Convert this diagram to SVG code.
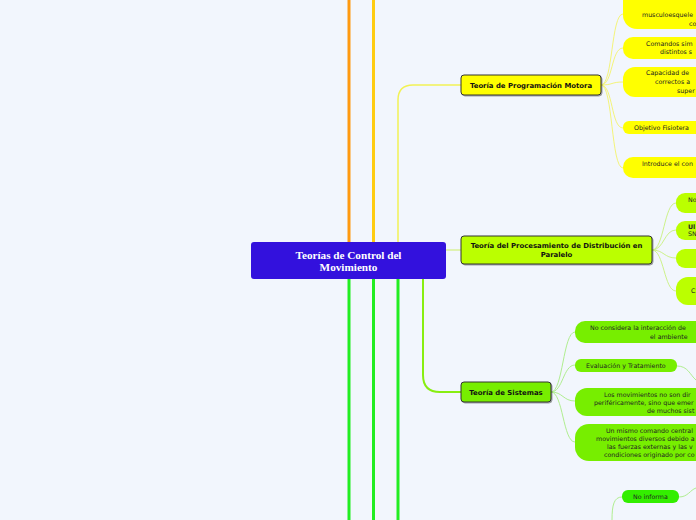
<svg xmlns="http://www.w3.org/2000/svg" width="696" height="520" viewBox="0 0 696 520">
<style>
.t{font-family:"DejaVu Sans","Liberation Sans",sans-serif;font-size:6.3px;fill:#222}
.h{font-family:"DejaVu Sans","Liberation Sans",sans-serif;font-size:6.9px;font-weight:bold;fill:#111;text-anchor:middle}
.c{font-family:"Liberation Serif",serif;font-weight:bold;font-size:11.2px;fill:#fff;text-anchor:middle}
.theme{stroke:#333;stroke-width:1}
.cy{fill:none;stroke:#f4f47a;stroke-width:1}
.cl{fill:none;stroke:#cdf28a;stroke-width:1}
.cg{fill:none;stroke:#b0ee90;stroke-width:1}
</style>
<defs>
<filter id="sh" x="-10%" y="-20%" width="120%" height="150%"><feDropShadow dx="1" dy="1" stdDeviation="0.6" flood-color="#000" flood-opacity="0.35"/></filter>
</defs>
<rect width="696" height="520" fill="#f2f6fd"/>
<g id="connectors">
<line x1="349" y1="0" x2="349" y2="242" stroke="#ff9a10" stroke-width="3"/>
<line x1="373.5" y1="0" x2="373.5" y2="242" stroke="#ffcc11" stroke-width="3"/>
<path d="M398,242 L398,100 Q398,85 413,85 L461,85" fill="none" stroke="#f2f255" stroke-width="1.5"/>
<line x1="349" y1="279" x2="349" y2="520" stroke="#22ee22" stroke-width="3"/>
<line x1="373.5" y1="279" x2="373.5" y2="520" stroke="#22ee22" stroke-width="3"/>
<line x1="398" y1="279" x2="398" y2="520" stroke="#22ee22" stroke-width="3"/>
<path d="M423,279 L423,375 Q423,392 440,392 L461,392" fill="none" stroke="#88ee11" stroke-width="2"/>
<path d="M446,250 L461,250" fill="none" stroke="#ccee66" stroke-width="1"/>
<path class="cy" d="M601,85 C613,85 611,14 623,14"/>
<path class="cy" d="M601,85 C613,85 611,48 623,48"/>
<path class="cy" d="M601,85 C613,85 611,82 623,82"/>
<path class="cy" d="M601,85 C613,85 611,128 623,128"/>
<path class="cy" d="M601,85 C613,85 611,168 623,168"/>
<path class="cl" d="M652,250 C664,250 664,203 676,203"/>
<path class="cl" d="M652,250 C664,250 664,230 676,230"/>
<path class="cl" d="M652,250 C664,250 664,258 676,258"/>
<path class="cl" d="M652,250 C664,250 664,291 676,291"/>
<path class="cg" d="M551,392 C563,392 563,332 575,332"/>
<path class="cg" d="M551,392 C563,392 563,365 575,365"/>
<path class="cg" d="M551,392 C563,392 563,401 575,401"/>
<path class="cg" d="M551,392 C563,392 563,442 575,442"/>
<path class="cg" d="M677,366 C688,366 690,375 696,380"/>
<path class="cg" d="M612,520 C612,505 614,497 622,497"/>
<path class="cg" d="M679,497 C688,497 690,490 696,488"/>
</g>
<g id="central">
<rect x="251" y="242" width="195" height="37" rx="3" fill="#3311dd"/>
<text class="c" x="348.5" y="258.5">Teorías de Control del</text>
<text class="c" x="348.5" y="271">Movimiento</text>
</g>
<g id="prog-motora">
<rect class="theme" x="461" y="75" width="140" height="20" rx="3" fill="#ffff00" filter="url(#sh)"/>
<text class="h" x="531" y="87.5">Teoría de Programación Motora</text>
</g>
<g id="procesamiento">
<rect class="theme" x="461" y="236" width="191" height="28" rx="3" fill="#bbff00" filter="url(#sh)"/>
<text class="h" x="556.5" y="248">Teoría del Procesamiento de Distribución en</text>
<text class="h" x="556.5" y="256.5">Paralelo</text>
</g>
<g id="sistemas">
<rect class="theme" x="461" y="382" width="90" height="20" rx="3" fill="#77ee00" filter="url(#sh)"/>
<text class="h" x="506" y="394.5">Teoría de Sistemas</text>
</g>
<g id="pm1">
<rect x="623" y="-20" width="120" height="49" rx="14" fill="#ffff00"/>
<text class="t" x="642" y="17">musculoesquele</text>
<text class="t" x="689" y="26">co</text>
</g>
<g id="pm2">
<rect x="623" y="37" width="120" height="22" rx="10" fill="#ffff00"/>
<text class="t" x="646" y="46">Comandos sim</text>
<text class="t" x="660" y="54">distintos s</text>
</g>
<g id="pm3">
<rect x="623" y="67" width="120" height="30" rx="12" fill="#ffff00"/>
<text class="t" x="646" y="75">Capacidad de</text>
<text class="t" x="655" y="84">correctos a</text>
<text class="t" x="677" y="93">super</text>
</g>
<g id="pm4">
<rect x="623" y="121" width="120" height="13" rx="6" fill="#ffff00"/>
<text class="t" x="634" y="130">Objetivo Fisiotera</text>
</g>
<g id="pm5">
<rect x="623" y="157" width="120" height="21" rx="10" fill="#ffff00"/>
<text class="t" x="642" y="166">Introduce el con</text>
</g>
<g id="pd1">
<rect x="676" y="193" width="60" height="20" rx="9" fill="#bbff00"/>
<text class="t" x="688" y="202" font-size="5">No</text>
</g>
<g id="pd2">
<rect x="676" y="221" width="60" height="19" rx="9" fill="#bbff00"/>
<text class="t" x="688" y="229" font-weight="bold">Ul</text>
<text class="t" x="688" y="236">SN</text>
</g>
<g id="pd3">
<rect x="676" y="249" width="60" height="19" rx="9" fill="#bbff00"/>
</g>
<g id="pd4">
<rect x="676" y="277" width="60" height="28" rx="12" fill="#bbff00"/>
<text class="t" x="691" y="293">C</text>
</g>
<g id="s1">
<rect x="575" y="321" width="160" height="22" rx="10" fill="#77ee00"/>
<text class="t" x="590" y="330">No considera la interacción de</text>
<text class="t" x="650" y="338.5">el ambiente</text>
</g>
<g id="s2">
<rect x="575" y="359" width="102" height="13" rx="6" fill="#77ee00"/>
<text class="t" x="586" y="368">Evaluación y Tratamiento</text>
</g>
<g id="s3">
<rect x="575" y="388" width="160" height="28" rx="12" fill="#77ee00"/>
<text class="t" x="604" y="397">Los movimientos no son dir</text>
<text class="t" x="594" y="405">periféricamente, sino que emer</text>
<text class="t" x="647" y="413">de muchos sist</text>
</g>
<g id="s4">
<rect x="575" y="424" width="160" height="37" rx="14" fill="#77ee00"/>
<text class="t" x="606" y="433">Un mismo comando central</text>
<text class="t" x="596" y="441">movimientos diversos debido a</text>
<text class="t" x="607" y="449">las fuerzas externas y las v</text>
<text class="t" x="604" y="457">condiciones originado por co</text>
</g>
<g id="no-informa">
<rect x="622" y="490" width="57" height="13" rx="6" fill="#33ee00"/>
<text class="t" x="633" y="499">No informa</text>
</g>
</svg>
